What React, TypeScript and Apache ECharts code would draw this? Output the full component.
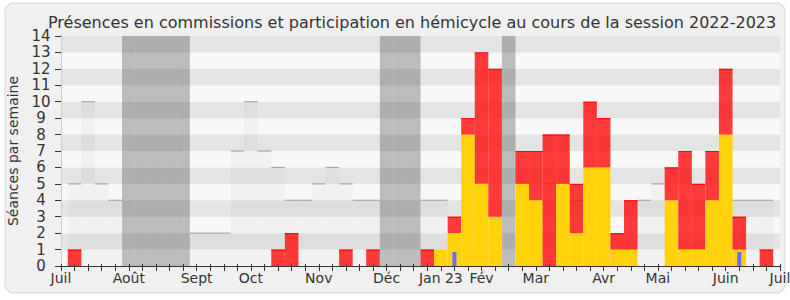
import React, { useEffect, useRef } from "react";
import * as echarts from "echarts";

// Week index (position of each weekly bar on the x axis)
const weeks = [
  1, 2, 3, 4, 5, 6, 7, 8, 9, 10, 11, 12, 13, 14, 15, 16, 17, 18, 19, 20, 21, 22, 23, 24, 25, 26,
  27, 28, 29, 30, 31, 32, 33, 34, 35, 36, 37, 38, 39, 40, 41, 42, 43, 44, 45, 46, 47, 48, 49, 50, 51, 52,
];

// Yellow: participation en hémicycle
const hemicycle = [
  0, 0, 0, 0, 0, 0, 0, 0, 0, 0, 0, 0, 0, 0, 0, 0, 0, 0, 0, 0, 0, 0, 0, 0, 0, 0,
  0, 1, 2, 8, 5, 3, 0, 5, 4, 0, 5, 2, 6, 6, 1, 1, 0, 0, 4, 1, 1, 4, 8, 1, 0, 0,
];

// Red: présences en commission
const commission = [
  1, 0, 0, 0, 0, 0, 0, 0, 0, 0, 0, 0, 0, 0, 0, 1, 2, 0, 0, 0, 1, 0, 1, 0, 0, 0,
  1, 0, 1, 1, 8, 9, 0, 2, 3, 8, 3, 3, 4, 3, 1, 3, 0, 0, 2, 6, 4, 3, 4, 2, 0, 1,
];

// Blue: questions orales
const questions = [
  0, 0, 0, 0, 0, 0, 0, 0, 0, 0, 0, 0, 0, 0, 0, 0, 0, 0, 0, 0, 0, 0, 0, 0, 0, 0,
  0, 0, 0.85, 0, 0, 0, 0, 0, 0, 0, 0, 0, 0, 0, 0, 0, 0, 0, 0, 0, 0, 0, 0, 0.85, 0, 0,
];

// Grey: présence médiane (null where hidden)
const mediane: (number | null)[] = [
  5, 10, 5, 4, null, null, null, null, null, 2, 2, 2, 7, 10, 7, 6, 4, 4, 5, 6, 5, 4, 4, null, null, null,
  4, 4, null, null, null, null, null, null, null, 5, null, 4, null, null, null, null, 4, 5, null, null, null, null, null, 4, 4, 4,
];

// Vacances parlementaires (weeks)
const vacationWeeks = [5, 6, 7, 8, 9, 24, 25, 26, 33];

// X axis month labels
const monthLabels = ["Juil", "Août", "Sept", "Oct", "Nov", "Déc", "Jan 23", "Fév", "Mar", "Avr", "Mai", "Juin", "Juil"];
const monthTicks = [0, 5, 10, 14, 19, 24, 28, 31, 35, 40, 44, 49, 53];

const FONT = "DejaVu Sans";
const TXT = "#333333";

export default function App() {
  const ref = useRef<HTMLDivElement>(null);

  useEffect(() => {
    if (!ref.current) return;
    const chart = echarts.init(ref.current, null, { renderer: "svg" });

    const vacData = vacationWeeks.map((w) => [w, 0]);
    const medData = weeks
      .map((w, i) => [w, mediane[i]])
      .filter((d) => d[1] !== null) as number[][];
    const stackData = weeks.map((w, i) => [w, hemicycle[i], commission[i]]);
    const qData = weeks.map((w, i) => [w, questions[i]]).filter((d) => d[1] > 0);

    const option: any = {
      animation: false,
      backgroundColor: "#ffffff",
      title: {
        text: "Présences en commissions et participation en hémicycle au cours de la session 2022-2023",
        left: 43,
        top: 9,
        textStyle: { fontFamily: FONT, fontSize: 16, fontWeight: "normal", color: TXT },
      },
      graphic: {
        elements: [
          {
            type: "rect",
            z: -100,
            silent: true,
            shape: { x: 5, y: 3, width: 780, height: 290, r: 8 },
            style: { fill: "#f0f0f0", stroke: "#d6d6d6", lineWidth: 1 },
          },
        ],
      },
      grid: { left: 61, right: 10, top: 36, bottom: 34, containLabel: false, outerBoundsMode: "none" },
      xAxis: [
        {
          type: "value",
          min: 0,
          max: 53,
          interval: 1,
          position: "bottom",
          axisLine: { show: true, lineStyle: { color: TXT, width: 1 } },
          axisTick: { show: true, length: 5, lineStyle: { color: TXT } },
          splitLine: { show: false },
          axisLabel: {
            customValues: monthTicks,
            margin: 5,
            fontFamily: FONT,
            fontSize: 14,
            color: TXT,
            formatter: (v: number) => {
              const k = monthTicks.indexOf(v);
              return k >= 0 ? monthLabels[k] : "";
            },
          },
        },
        {
          type: "value",
          min: 0,
          max: 53,
          interval: 1,
          position: "top",
          axisLine: { show: false },
          axisTick: { show: true, length: 2, lineStyle: { color: TXT } },
          axisLabel: { show: false },
          splitLine: { show: false },
        },
      ],
      yAxis: [
        {
          type: "value",
          min: 0,
          max: 14,
          interval: 1,
          name: "Séances par semaine",
          nameLocation: "middle",
          nameRotate: 90,
          nameGap: 41,
          nameTextStyle: { fontFamily: FONT, fontSize: 14, color: TXT },
          axisLine: { show: true, lineStyle: { color: TXT, width: 1 } },
          axisTick: { show: true, length: 6, lineStyle: { color: TXT } },
          axisLabel: { fontFamily: FONT, fontSize: 15, color: TXT, align: "center", margin: 20 },
          splitLine: { show: false },
          splitArea: { show: true, areaStyle: { color: ["#f8f8f8", "#e4e4e4"] } },
        },
        {
          type: "value",
          min: 0,
          max: 14,
          interval: 1,
          position: "right",
          axisLine: { show: true, lineStyle: { color: "#cccccc", width: 1 } },
          axisTick: { show: false },
          axisLabel: { show: false },
          splitLine: { show: false },
        },
      ],
      series: [
        {
          type: "custom",
          name: "Vacances",
          xAxisIndex: 0,
          yAxisIndex: 0,
          z: 1,
          silent: true,
          data: vacData,
          encode: { x: 0, y: 1 },
          renderItem: (params: any, api: any) => {
            const w = api.value(0);
            const a = api.coord([w - 0.5, 0]);
            const b = api.coord([w + 0.5, 0]);
            const cs = params.coordSys;
            return {
              type: "rect",
              shape: { x: a[0], y: cs.y, width: b[0] - a[0], height: cs.height },
              style: { fill: "rgba(50,50,50,0.3)" },
            };
          },
        },
        {
          type: "custom",
          name: "Présence médiane",
          z: 2,
          silent: true,
          data: medData,
          encode: { x: 0, y: 1 },
          renderItem: (params: any, api: any) => {
            const w = api.value(0);
            const v = api.value(1);
            const tl = api.coord([w - 0.5, v]);
            const br = api.coord([w + 0.5, 0]);
            return {
              type: "group",
              children: [
                {
                  type: "rect",
                  shape: { x: tl[0], y: tl[1], width: br[0] - tl[0], height: br[1] - tl[1] },
                  style: { fill: "rgba(128,128,128,0.06)" },
                },
                {
                  type: "line",
                  shape: { x1: tl[0], y1: tl[1], x2: br[0], y2: tl[1] },
                  style: { stroke: "#a8a8a8", lineWidth: 1.2 },
                },
              ],
            };
          },
        },
        {
          type: "custom",
          name: "Hémicycle / Commission",
          z: 3,
          silent: true,
          data: stackData,
          encode: { x: 0, y: [1, 2] },
          renderItem: (params: any, api: any) => {
            const w = api.value(0);
            const h = api.value(1);
            const c = api.value(2);
            const children: any[] = [];
            const x0 = api.coord([w - 0.5, 0])[0];
            const x1 = api.coord([w + 0.5, 0])[0];
            const y0 = api.coord([w, 0])[1];
            const yh = api.coord([w, h])[1];
            const yc = api.coord([w, h + c])[1];
            if (h > 0) {
              children.push({
                type: "rect",
                shape: { x: x0, y: yh, width: x1 - x0, height: y0 - yh },
                style: { fill: "#ffd20c" },
              });
            }
            if (c > 0) {
              children.push({
                type: "rect",
                shape: { x: x0, y: yc, width: x1 - x0, height: yh - yc },
                style: { fill: "rgba(255,10,10,0.8)" },
              });
              children.push({
                type: "line",
                shape: { x1: x0, y1: yc + 0.5, x2: x1, y2: yc + 0.5 },
                style: { stroke: "#ff0000", lineWidth: 1 },
              });
            }
            return { type: "group", children };
          },
        },
        {
          type: "custom",
          name: "Questions orales",
          z: 4,
          silent: true,
          data: qData,
          encode: { x: 0, y: 1 },
          renderItem: (params: any, api: any) => {
            const w = api.value(0);
            const v = api.value(1);
            const tl = api.coord([w - 0.15, v]);
            const br = api.coord([w + 0.15, 0]);
            return {
              type: "rect",
              shape: { x: tl[0], y: tl[1], width: br[0] - tl[0], height: br[1] - tl[1] },
              style: { fill: "#6b6bff" },
            };
          },
        },
      ],
    };

    chart.setOption(option);
    return () => chart.dispose();
  }, []);

  return (
    <div
      ref={ref}
      style={{ position: "absolute", left: 0, top: 0, width: 790, height: 300 }}
    />
  );
}
